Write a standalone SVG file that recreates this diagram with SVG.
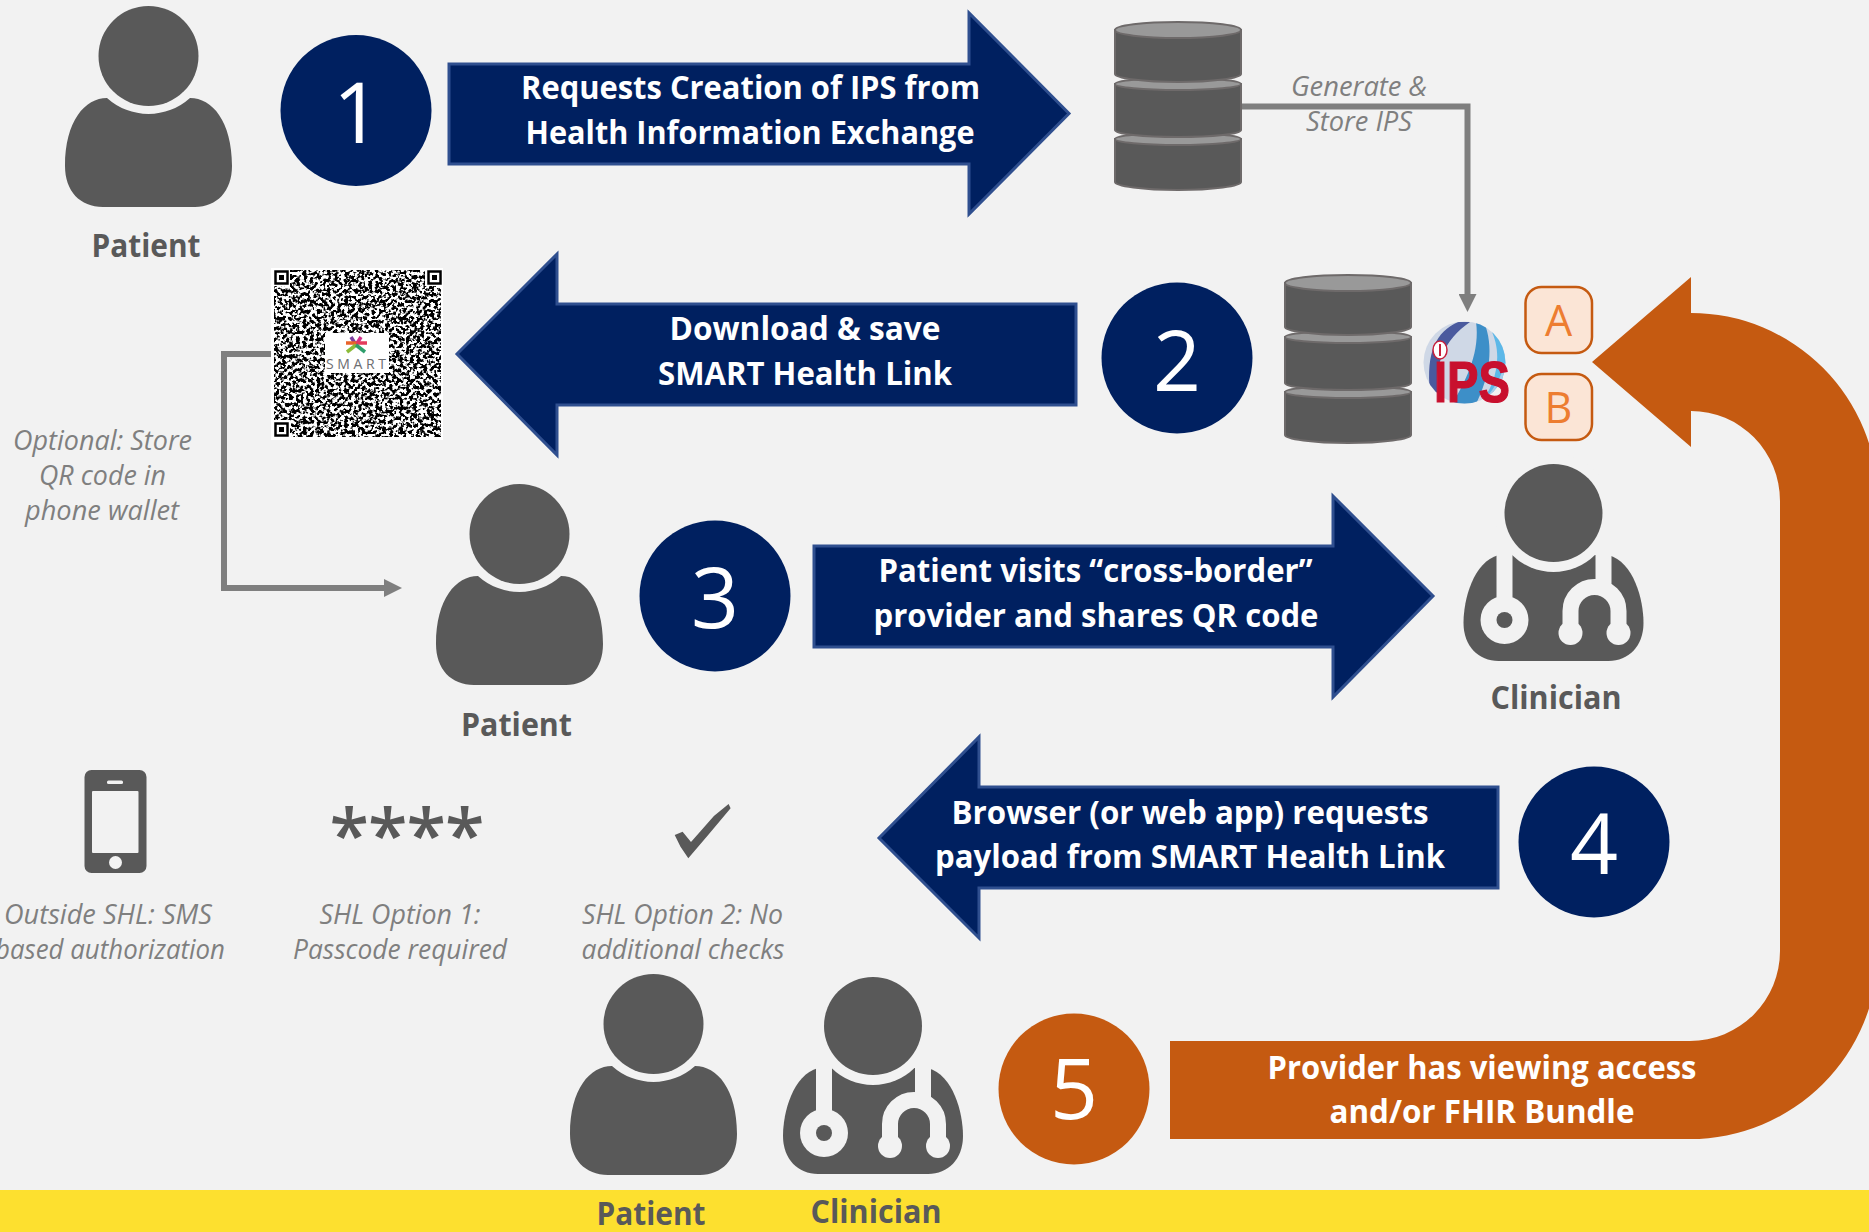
<svg xmlns="http://www.w3.org/2000/svg" width="1869" height="1232" viewBox="0 0 1869 1232">
<style>
text{font-family:"Open Sans","Liberation Sans",sans-serif;text-anchor:middle}
.w{fill:#fff;font-weight:700;font-size:33px}
.l{fill:#595959;font-weight:700;font-size:33px}
.i{fill:#7f7f7f;font-style:italic;font-size:28px}
.d{fill:#fff;font-size:84px}
.b{fill:#ed7d31;font-size:43px}
.n{fill:#002060}
.o{fill:#c55a11}
.ar{fill:#002060;stroke:#2f4f8f;stroke-width:3}
.ic{fill:#595959}
.bg{fill:#f2f2f2}
.cn{fill:none;stroke:#7f7f7f;stroke-width:6}
.box{fill:#fbe5d6;stroke:#c55a11;stroke-width:2.5}
.dk{fill:#595959;stroke:#6e6a6a;stroke-width:2}
.tp{fill:#999;stroke:#6e6a6a;stroke-width:2}
</style>
<defs>
<marker id="tri" markerUnits="userSpaceOnUse" markerWidth="18" markerHeight="18" refX="0" refY="9" orient="auto" viewBox="0 0 18 18"><path d="M0 0L18 9L0 18Z" fill="#7f7f7f"/></marker>
<g id="person">
<circle class="ic" cx="83.500" cy="50" r="50"/>
<path class="ic" d="M42 92C20 92 0 115 0 160C0 185 15 201 38 201H130C152 201 167 185 167 160C167 115 147 92 125 92A61.800 61.800 0 0 1 42 92Z"/>
</g>
<g id="clinician">
<path class="ic" d="M35 91C10 98 0 135 0 159C0 182 15 197 35 197H145C165 197 180 182 180 159C180 135 170 98 145 91Z"/>
<circle class="bg" cx="90" cy="49" r="59"/>
<circle class="ic" cx="90" cy="49" r="49"/>
<path d="M41 88V140M140 84V125M107 169V147A24 24 0 0 1 155 147V169" fill="none" stroke="#f2f2f2" stroke-width="16"/>
<circle class="bg" cx="41" cy="156" r="24"/>
<circle class="ic" cx="41" cy="156" r="8"/>
<circle class="bg" cx="107" cy="169" r="12"/>
<circle class="bg" cx="155" cy="169" r="12"/>
</g>
<g id="db">
<path class="dk" d="M0 117V160C0 164 28 168 63 168S126 164 126 160V117Z"/>
<ellipse class="tp" cx="63" cy="117" rx="63" ry="6"/>
<path class="dk" d="M0 62V108C0 112 28 115 63 115S126 112 126 108V62Z"/>
<ellipse class="tp" cx="63" cy="62" rx="63" ry="6"/>
<path class="dk" d="M0 8V52C0 56 28 60 63 60S126 56 126 52V8Z"/>
<ellipse class="tp" cx="63" cy="8" rx="63" ry="8"/>
</g>
<filter id="qrn" x="0" y="0" width="1" height="1" color-interpolation-filters="sRGB">
<feTurbulence type="fractalNoise" baseFrequency="0.29" numOctaves="2" seed="11"/>
<feColorMatrix values="1 0 0 0 0 1 0 0 0 0 1 0 0 0 0 0 0 0 0 1"/>
<feComponentTransfer><feFuncR type="linear" slope="9" intercept="-4"/><feFuncG type="linear" slope="9" intercept="-4"/><feFuncB type="linear" slope="9" intercept="-4"/></feComponentTransfer>
</filter>
<clipPath id="globe"><ellipse cx="1464.500" cy="362.500" rx="41" ry="41"/></clipPath>
</defs>
<rect id="background" width="1869" height="1232" fill="#f2f2f2"/>
<rect id="band" y="1190" width="1869" height="42" fill="#fde02f"/>

<g id="connectors">
<path class="cn" d="M1242 106.500H1467.500V294" marker-end="url(#tri)"/>
<path class="cn" d="M272 354H224V588H384" marker-end="url(#tri)"/>
<g id="arrow-1"><path class="ar" d="M449 64H969V13L1069 113.500L969 214V164H449Z"/>
<text class="w" x="750.500" y="99" textLength="459" lengthAdjust="spacingAndGlyphs">Requests Creation of IPS from</text>
<text class="w" x="750" y="144" textLength="449" lengthAdjust="spacingAndGlyphs">Health Information Exchange</text></g>
<g id="arrow-2"><path class="ar" d="M1076 304H557V254L457 354L557 455V405H1076Z"/>
<text class="w" x="805" y="340" textLength="271" lengthAdjust="spacingAndGlyphs">Download &amp; save</text>
<text class="w" x="805" y="385" textLength="294" lengthAdjust="spacingAndGlyphs">SMART Health Link</text></g>
<g id="arrow-3"><path class="ar" d="M814 546H1333V496L1433 596L1333 697V647H814Z"/>
<text class="w" x="1095.500" y="582" textLength="434" lengthAdjust="spacingAndGlyphs">Patient visits “cross-border”</text>
<text class="w" x="1096" y="627" textLength="445" lengthAdjust="spacingAndGlyphs">provider and shares QR code</text></g>
<g id="arrow-4"><path class="ar" d="M1498 787H979V737L879 838L979 938V888H1498Z"/>
<text class="w" x="1190" y="824" textLength="477" lengthAdjust="spacingAndGlyphs">Browser (or web app) requests</text>
<text class="w" x="1190" y="868" textLength="510" lengthAdjust="spacingAndGlyphs">payload from SMART Health Link</text></g>
<g id="arrow-5"><path class="o" d="M1170 1041H1690A90 90 0 0 0 1780 951V501A89 90 0 0 0 1691 411V447L1592 362L1691 277V313A187 188 0 0 1 1878 501V951A188 188 0 0 1 1690 1139H1170Z"/>
<text class="w" x="1482" y="1079" textLength="429" lengthAdjust="spacingAndGlyphs">Provider has viewing access</text>
<text class="w" x="1482" y="1123" textLength="305" lengthAdjust="spacingAndGlyphs">and/or FHIR Bundle</text></g>
<g id="connector-labels">
<text class="i" x="1359" y="96" textLength="136" lengthAdjust="spacingAndGlyphs">Generate &amp;</text>
<text class="i" x="1359" y="130.500" textLength="106" lengthAdjust="spacingAndGlyphs">Store IPS</text>
<text class="i" x="102.500" y="450" textLength="179" lengthAdjust="spacingAndGlyphs">Optional: Store</text>
<text class="i" x="102.500" y="485" textLength="127" lengthAdjust="spacingAndGlyphs">QR code in</text>
<text class="i" x="102" y="520" textLength="154" lengthAdjust="spacingAndGlyphs">phone wallet</text>
</g>
</g>

<g id="step-1"><circle class="n" cx="356" cy="110.500" r="75.500"/><text class="d" x="357" y="142.500">1</text></g>
<g id="step-2"><circle class="n" cx="1177" cy="358" r="75.500"/><text class="d" x="1177" y="390.500">2</text></g>
<g id="step-3"><circle class="n" cx="715" cy="596" r="75.500"/><text class="d" x="715" y="628">3</text></g>
<g id="step-4"><circle class="n" cx="1594" cy="842" r="75.500"/><text class="d" x="1594" y="874">4</text></g>
<g id="step-5"><circle class="o" cx="1074" cy="1089" r="75.500"/><text class="d" x="1074" y="1119">5</text></g>

<g id="patient-1"><use href="#person" x="65" y="6"/><text class="l" x="146" y="257" textLength="109" lengthAdjust="spacingAndGlyphs">Patient</text></g>
<g id="patient-2"><use href="#person" x="436" y="484"/><text class="l" x="516.500" y="736" textLength="111" lengthAdjust="spacingAndGlyphs">Patient</text></g>
<g id="patient-3"><use href="#person" x="570" y="974"/><text class="l" x="651" y="1225" textLength="109" lengthAdjust="spacingAndGlyphs">Patient</text></g>
<g id="clinician-1"><use href="#clinician" x="1463.500" y="464"/><text class="l" x="1556" y="709" textLength="131" lengthAdjust="spacingAndGlyphs">Clinician</text></g>
<g id="clinician-2"><use href="#clinician" x="783" y="977"/><text class="l" x="876" y="1222.500" textLength="131" lengthAdjust="spacingAndGlyphs">Clinician</text></g>

<g id="database-1"><use href="#db" x="1115" y="22"/></g>
<g id="database-2"><use href="#db" x="1285" y="275"/></g>

<g id="ips-logo">
<ellipse cx="1464.500" cy="362.500" rx="41" ry="41" fill="#cfd8e6"/>
<g clip-path="url(#globe)">
<path d="M1458 322C1436 332 1426 352 1430 392L1438 396C1434 364 1444 340 1470 322Z" fill="#4a5a9e"/>
<path d="M1476 322C1480 350 1468 378 1452 404H1476C1490 376 1494 346 1484 322Z" fill="#3d8fc8"/>
<path d="M1490 328C1504 354 1496 384 1480 404H1494C1510 384 1512 346 1490 328Z" fill="#5cb8e8"/>
<path d="M1480 404C1492 392 1500 380 1504 366V404Z" fill="#a8cdea"/>
</g>
<ellipse cx="1440" cy="350" rx="7" ry="9" fill="#fff" stroke="#c8203c" stroke-width="1.500"/>
<path d="M1440 344V356" stroke="#c8203c" stroke-width="2"/>
<text x="1472" y="402" textLength="76" lengthAdjust="spacingAndGlyphs" style="font-family:'Liberation Sans',sans-serif;font-weight:700;font-size:58px;fill:#c8102e;stroke:#c8102e;stroke-width:1.200">IPS</text>
</g>
<g id="option-a"><rect class="box" x="1525.500" y="287" width="66.500" height="66" rx="16"/><text class="b" x="1558.500" y="336">A</text></g>
<g id="option-b"><rect class="box" x="1525.500" y="374" width="66.500" height="66" rx="16"/><text class="b" x="1558.500" y="423">B</text></g>

<g id="qr-code">
<rect x="271" y="268" width="172" height="172" fill="#fff"/>
<rect x="274" y="270" width="167" height="167" filter="url(#qrn)"/>
<g fill="#fff" stroke="#000" stroke-width="2.500">
<rect x="272" y="268" width="18" height="18" stroke="none"/><rect x="425" y="268" width="18" height="18" stroke="none"/><rect x="272" y="420" width="18" height="18" stroke="none"/>
<rect x="275.500" y="271.500" width="12" height="12"/><rect x="428.500" y="271.500" width="12" height="12"/><rect x="275.500" y="423.500" width="12" height="12"/>
</g>
<path d="M279 275h5v5h-5zM432 275h5v5h-5zM279 427h5v5h-5z" fill="#000"/>
<rect x="325" y="333" width="64" height="40" fill="#fff"/>
<g fill="none" stroke-width="3.500">
<path d="M351 337L356 345" stroke="#7b3fa0"/><path d="M361 337L356 345" stroke="#d0308a"/><path d="M346 343H356" stroke="#e8632b"/><path d="M356 343H367" stroke="#e33b5c"/><path d="M347 352L356 345" stroke="#8bbb3a"/><path d="M365 352L356 345" stroke="#2e9e6b"/>
</g>
<text x="356" y="369" textLength="60" lengthAdjust="spacing" style="font-size:14px;fill:#6d6e71">SMART</text>
</g>

<g id="phone">
<rect class="ic" x="84.500" y="770" width="62" height="103" rx="7"/>
<rect class="bg" x="92" y="791" width="46.500" height="62" rx="1"/>
<rect class="bg" x="107" y="780.500" width="16" height="3.500" rx="1.500"/>
<circle class="bg" cx="115.500" cy="862.500" r="6.500"/>
<text class="i" x="108" y="924" textLength="208" lengthAdjust="spacingAndGlyphs">Outside SHL: SMS</text>
<text class="i" x="110" y="959" textLength="230" lengthAdjust="spacingAndGlyphs">based authorization</text>
</g>
<g id="passcode">
<text x="407" y="861" textLength="155" lengthAdjust="spacing" style="font-size:72px;font-weight:600;fill:#595959">****</text>
<text class="i" x="400" y="924" textLength="161" lengthAdjust="spacingAndGlyphs">SHL Option 1:</text>
<text class="i" x="400" y="959" textLength="214" lengthAdjust="spacingAndGlyphs">Passcode required</text>
</g>
<g id="no-checks">
<path class="ic" d="M674.700 835L682.600 831.700L691 842L713.900 816L728.600 804L730.600 808.300L709 834L688.300 858.300L680.500 846.700Z"/>
<text class="i" x="682.500" y="924" textLength="201" lengthAdjust="spacingAndGlyphs">SHL Option 2: No</text>
<text class="i" x="683" y="959" textLength="203" lengthAdjust="spacingAndGlyphs">additional checks</text>
</g>
</svg>
